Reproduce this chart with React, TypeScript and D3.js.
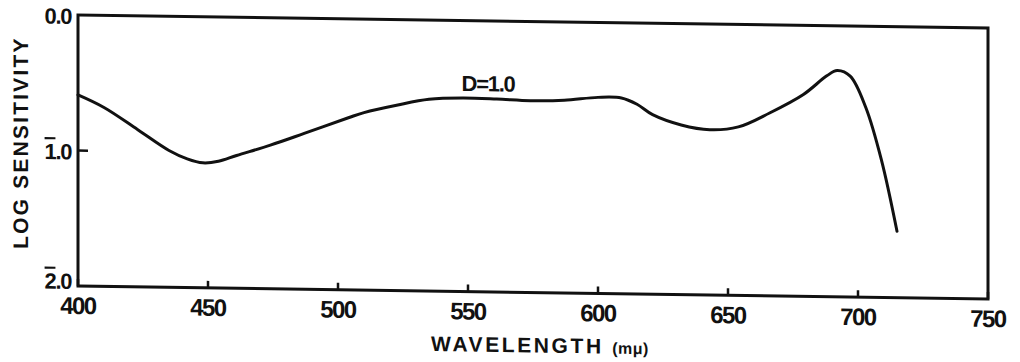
import React from "react";
import * as d3 from "d3";

// Log sensitivity curve (D = 1.0) against wavelength in millimicrons
const wavelengths = [400, 410, 423, 435, 442, 448, 454, 461, 474, 487, 504, 510, 523, 535, 548, 561, 574, 587, 600, 609, 615, 621, 632, 643, 654, 666, 679, 688, 692, 697, 703, 709, 715];
const logSensitivity = [0.59, 0.68, 0.84, 0.99, 1.05, 1.078, 1.065, 1.02, 0.94, 0.85, 0.73, 0.69, 0.63, 0.585, 0.572, 0.576, 0.585, 0.578, 0.553, 0.555, 0.6, 0.675, 0.748, 0.78, 0.756, 0.65, 0.51, 0.37, 0.33, 0.37, 0.6, 0.985, 1.51];

const xTicks = [400, 450, 500, 550, 600, 650, 700, 750];
const yTicks = [0, 1, 2];
// characteristic (barred when negative) and mantissa of each log label
const yTickChar = ["0", "1", "2"];
const yTickBar = [false, true, true];
const yTickMantissa = [".0", ".0", ".0"];
const curveLabel = "D=1.0";

const W = 1020;
const H = 362;
const left = 78;
const right = 988;
const top = 15;
const bottom = 286;

const FONT = "'Liberation Sans', Arial, sans-serif";

export default function App() {
  const x = d3.scaleLinear().domain([400, 750]).range([left, right]);
  const y = d3.scaleLinear().domain([0, 2]).range([top, bottom]);

  const line = d3
    .line<number>()
    .x((_, i) => x(wavelengths[i]))
    .y((v) => y(v))
    .curve(d3.curveCatmullRom.alpha(0.5));

  const path = line(logSensitivity) ?? "";

  // the whole plate sits with a slight downward tilt to the right
  const tilt = `translate(${left},0) skewY(0.82) translate(${-left},0)`;

  return (
    <svg
      width={W}
      height={H}
      style={{ position: "absolute", left: 0, top: 0, background: "#fff" }}
      fontFamily={FONT}
    >
      <g transform={tilt}>
        {/* frame */}
        <rect
          x={left}
          y={top}
          width={right - left}
          height={bottom - top}
          fill="none"
          stroke="#111"
          strokeWidth={3}
        />
        {/* x ticks pointing into the plot */}
        {xTicks.map((t) => (
          <g key={t}>
            <line x1={x(t)} x2={x(t)} y1={bottom} y2={bottom - 7} stroke="#111" strokeWidth={2.5} />
            <text
              x={x(t)}
              y={bottom + 28}
              textAnchor="middle"
              fontSize={24}
              fontWeight="bold"
              letterSpacing={-1.6}
              fill="#111"
            >
              {t}
            </text>
          </g>
        ))}
        {/* y ticks */}
        {yTicks.map((t, i) => (
          <g key={t}>
            {t > 0 && t < 2 && (
              <line x1={left} x2={left + 10} y1={y(t)} y2={y(t)} stroke="#111" strokeWidth={2.5} />
            )}
            <text
              x={left - 7}
              y={Math.min(y(t) + 9, bottom + 3)}
              textAnchor="end"
              fontSize={22}
              fontWeight="bold"
              letterSpacing={-1.4}
              fill="#111"
            >
              <tspan style={{ textDecoration: yTickBar[i] ? "overline" : "none" }}>{yTickChar[i]}</tspan>
              {yTickMantissa[i]}
            </text>
          </g>
        ))}
        {/* curve */}
        <path d={path} fill="none" stroke="#111" strokeWidth={3} strokeLinejoin="round" strokeLinecap="round" />
        <text
          x={x(557.7)}
          y={y(0.52)}
          textAnchor="middle"
          fontSize={22}
          fontWeight="bold"
          letterSpacing={-1.3}
          fill="#111"
        >
          {curveLabel}
        </text>
        {/* axis titles */}
        <text
          x={540}
          y={bottom + 60}
          textAnchor="middle"
          fontSize={21}
          fontWeight="bold"
          letterSpacing={2.6}
          fill="#111"
        >
          WAVELENGTH{" "}
          <tspan fontSize={16} letterSpacing={0.5}>(mμ)</tspan>
        </text>
        <text
          transform={`translate(28,${(top + bottom) / 2 - 7}) rotate(-90)`}
          textAnchor="middle"
          fontSize={21}
          fontWeight="bold"
          letterSpacing={2.2}
          fill="#111"
        >
          LOG SENSITIVITY
        </text>
      </g>
    </svg>
  );
}
